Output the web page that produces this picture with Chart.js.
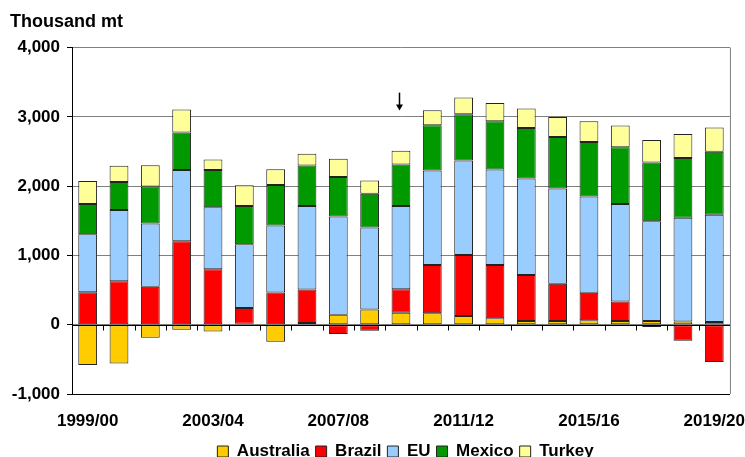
<!DOCTYPE html>
<html>
<head>
<meta charset="utf-8">
<script src="https://cdn.jsdelivr.net/npm/chart.js@4"></script>
<style>
html,body{margin:0;padding:0;background:#fff;}
#wrap{width:745px;height:457px;position:relative;}
</style>
</head>
<body>
<div id="wrap"><canvas id="c" width="745" height="457"></canvas></div>
<script>
const years = ["1999/00","2000/01","2001/02","2002/03","2003/04","2004/05","2005/06","2006/07","2007/08","2008/09","2009/10","2010/11","2011/12","2012/13","2013/14","2014/15","2015/16","2016/17","2017/18","2018/19","2019/20"];
const australia = [-580,-561,-189,-73,-97,15,-247,25,145,218,174,165,126,92,53,53,63,53,53,48,39];
const brazil    = [470,629,547,1205,799,227,465,483,-135,-87,339,696,881,769,663,537,397,281,-34,-232,-537];
const eu        = [836,1026,914,1030,895,919,967,1205,1418,1185,1200,1365,1364,1379,1394,1375,1389,1408,1442,1496,1548];
const mexico    = [436,406,533,538,541,552,586,585,571,489,600,653,668,697,730,745,788,818,847,861,910];
const turkey    = [334,233,309,333,151,300,227,170,261,189,198,218,242,262,281,290,300,314,324,348,348];
const shownLabels = ["1999/00","2003/04","2007/08","2011/12","2015/16","2019/20"];
const arrowAt = "2009/10";

const FONT = "'Liberation Sans', Arial, sans-serif";

const legendShift = {
  id: 'legendShift',
  afterLayout(chart) {
    const lg = chart.legend;
    if (lg) { lg.left += 28; lg.right += 28; }
  }
};

const extras = {
  id: 'extras',
  afterDraw(chart) {
    const ctx = chart.ctx, x = chart.scales.x, y = chart.scales.y, a = chart.chartArea;
    ctx.save();
    ctx.strokeStyle = '#808080'; ctx.lineWidth = 1;
    ctx.beginPath(); ctx.moveTo(a.right + 0.5, a.top); ctx.lineTo(a.right + 0.5, a.bottom); ctx.stroke();
    const y0 = Math.round(y.getPixelForValue(0)) + 0.5;
    ctx.strokeStyle = '#000';
    ctx.beginPath(); ctx.moveTo(a.left, y0); ctx.lineTo(a.right, y0); ctx.stroke();
    for (let i = 0; i < years.length - 1; i++) {
      const bx = Math.round((x.getPixelForValue(i) + x.getPixelForValue(i + 1)) / 2) + 0.5;
      ctx.beginPath(); ctx.moveTo(bx, y0); ctx.lineTo(bx, y0 + 5); ctx.stroke();
    }
    const ai = years.indexOf(arrowAt);
    const ax = Math.round(x.getPixelForValue(ai)) - 1.5;
    const top = y.getPixelForValue(4000) + 45, bot = y.getPixelForValue(4000) + 63;
    ctx.strokeStyle = '#000'; ctx.fillStyle = '#000'; ctx.lineWidth = 1.5;
    ctx.beginPath(); ctx.moveTo(ax, top); ctx.lineTo(ax, bot - 5); ctx.stroke();
    ctx.beginPath(); ctx.moveTo(ax - 3.5, bot - 6); ctx.lineTo(ax + 3.5, bot - 6); ctx.lineTo(ax, bot); ctx.closePath(); ctx.fill();
    ctx.restore();
  }
};

const mk = (label, data, color) => ({
  label, data, backgroundColor: color, borderColor: '#222', borderWidth: 1,
  borderSkipped: false, categoryPercentage: 1.0, barPercentage: 0.6
});

new Chart(document.getElementById('c'), {
  type: 'bar',
  data: {
    labels: years,
    datasets: [
      mk('Australia', australia, '#FFCC00'),
      mk('Brazil', brazil, '#FF0000'),
      mk('EU', eu, '#99CCFF'),
      mk('Mexico', mexico, '#009900'),
      mk('Turkey', turkey, '#FFFF99')
    ]
  },
  options: {
    responsive: false,
    animation: false,
    devicePixelRatio: 1,
    layout: { padding: { left: 10, right: 0, top: 3, bottom: -13 } },
    plugins: {
      title: {
        display: true, text: 'Thousand mt', align: 'start', color: '#000',
        font: { family: FONT, size: 18, weight: 'bold' }, padding: { top: 8, bottom: 15 }
      },
      legend: {
        position: 'bottom',
        labels: {
          color: '#000', boxWidth: 11, boxHeight: 11, padding: 6,
          font: { family: FONT, size: 17, weight: 'bold' }
        }
      },
      tooltip: { enabled: false }
    },
    scales: {
      x: {
        stacked: true,
        afterFit: s => { s.height = 43; },
        grid: { display: true, drawOnChartArea: false, drawTicks: true, tickLength: 17, tickColor: 'rgba(0,0,0,0)', color: 'rgba(0,0,0,0)' },
        border: { display: true, color: '#000', width: 1 },
        ticks: {
          autoSkip: false, maxRotation: 0, padding: 0, color: '#000',
          font: { family: FONT, size: 17, weight: 'bold' },
          callback: function(v, i) { const l = years[i]; return shownLabels.includes(l) ? l : ''; }
        }
      },
      y: {
        stacked: true, min: -1000, max: 4000,
        afterFit: s => { s.width = 62; },
        grid: { color: '#808080', tickLength: 5, tickColor: '#000' },
        border: { display: true, color: '#000', width: 1 },
        ticks: {
          stepSize: 1000, color: '#000', padding: 7,
          font: { family: FONT, size: 17, weight: 'bold' },
          callback: v => v.toLocaleString('en-US')
        }
      }
    }
  },
  plugins: [extras, legendShift]
});
</script>
</body>
</html>
